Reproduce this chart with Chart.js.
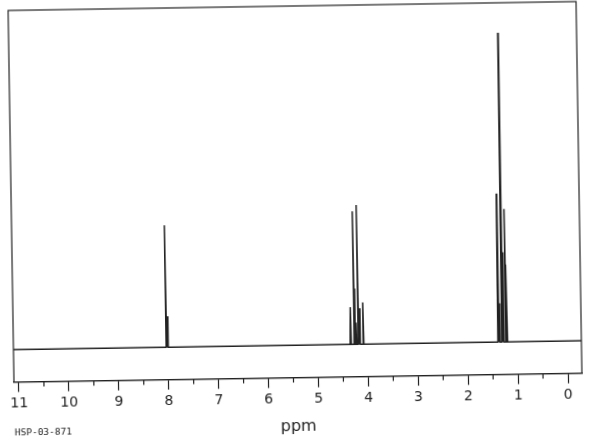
<!DOCTYPE html>
<html>
<head>
<meta charset="utf-8">
<script src="https://cdn.jsdelivr.net/npm/chart.js@4.4.1/dist/chart.umd.min.js"></script>
<style>
  html, body { margin: 0; padding: 0; background: #fff; overflow: hidden; }
  /* the scanned sheet sits slightly askew */
  #wrap { width: 594px; height: 440px; transform: rotate(-0.9deg); transform-origin: 295px 191px; }
</style>
</head>
<body>
<div id="wrap"><canvas id="nmr" width="594" height="440"></canvas></div>
<script>
// line positions (ppm) and their heights (tallest line = 100)
const shiftPpm  = [8.04, 8.01, 4.34, 4.27, 4.26, 4.23, 4.19, 4.16, 4.09, 1.38, 1.36, 1.30, 1.28, 1.23, 1.21];
const intensity = [39.4, 10,   12,   43,   18,   7,    45,   11.6, 13.5, 48,   12.5, 100,  29,   43,   25];

const majorTicks = [11, 10, 9, 8, 7, 6, 5, 4, 3, 2, 1, 0];
const minorTicks = [10.5, 9.5, 8.5, 7.5, 6.5, 5.5, 4.5, 3.5, 2.5, 1.5, 0.5];
const axisLabel = 'ppm';
const sampleCode = 'HSP-03-871';

const ppmMax = 11.1, ppmMin = -0.28;
const halfWidth = 0.012;

// stick spectrum: baseline -> line top -> baseline
const trace = [{ x: ppmMax, y: 0 }];
shiftPpm.forEach((p, i) => {
  trace.push({ x: p + halfWidth, y: 0 }, { x: p, y: intensity[i] }, { x: p - halfWidth, y: 0 });
});
trace.push({ x: ppmMin, y: 0 });

const ink = '#222';

// frame, short half-ppm ticks and the sample code
const framePlugin = {
  id: 'frame',
  afterDraw(chart) {
    const { ctx, chartArea: a } = chart;
    const x = chart.scales.x;
    ctx.save();
    ctx.strokeStyle = ink;
    ctx.lineWidth = 1.2;
    ctx.strokeRect(a.left, a.top, a.right - a.left, a.bottom - a.top);
    ctx.beginPath();
    minorTicks.forEach(v => {
      const px = x.getPixelForValue(v);
      ctx.moveTo(px, a.bottom);
      ctx.lineTo(px, a.bottom + 5);
    });
    ctx.stroke();
    ctx.font = '9.5px "DejaVu Sans Mono"';
    ctx.fillStyle = ink;
    ctx.fillText(sampleCode, 11, 431);
    ctx.restore();
  }
};

new Chart(document.getElementById('nmr'), {
  type: 'line',
  data: {
    datasets: [{
      data: trace,
      borderColor: ink,
      borderWidth: 1.5,
      pointRadius: 0,
      tension: 0,
      fill: false
    }]
  },
  options: {
    responsive: false,
    animation: false,
    devicePixelRatio: 1,
    layout: { padding: { left: 11, right: 15, top: 6, bottom: 0 } },
    plugins: { legend: { display: false }, tooltip: { enabled: false } },
    scales: {
      x: {
        type: 'linear',
        reverse: true,
        min: ppmMin,
        max: ppmMax,
        afterFit(scale) { scale.height = 62.4; },
        afterBuildTicks(scale) { scale.ticks = majorTicks.map(v => ({ value: v })); },
        grid: { drawOnChartArea: false, drawTicks: true, tickLength: 10, tickColor: ink, tickWidth: 1.2 },
        border: { display: true, color: ink, width: 1.2 },
        ticks: {
          color: ink,
          padding: 3,
          maxRotation: 0,
          autoSkip: false,
          font: { family: '"DejaVu Sans"', size: 14 },
          callback: v => String(v)
        },
        title: {
          display: true,
          text: axisLabel,
          color: ink,
          padding: { top: 0, bottom: 4 },
          font: { family: '"DejaVu Sans"', size: 16 }
        }
      },
      y: {
        display: false,
        min: -10.5,
        max: 109.7
      }
    }
  },
  plugins: [framePlugin]
});
</script>
</body>
</html>
